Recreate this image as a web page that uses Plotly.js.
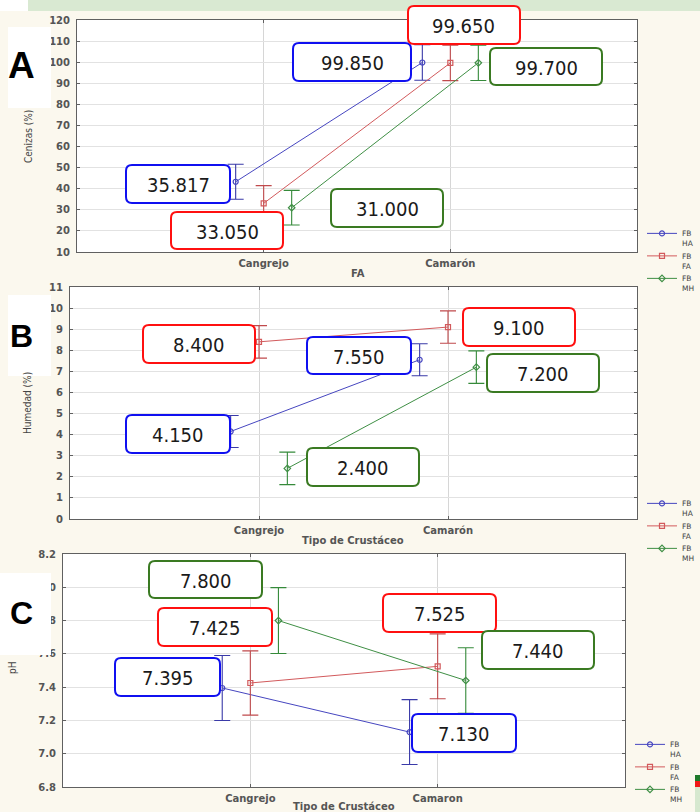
<!DOCTYPE html>
<html>
<head>
<meta charset="utf-8">
<script src="https://cdn.plot.ly/plotly-3.0.1.min.js"></script>
<style>html,body{margin:0;padding:0;background:#fbf8ee;}#chart{width:700px;height:812px;}</style>
</head>
<body>
<div id="chart"></div>
<script>
// ---------------- DATA ----------------
const seriesNames = ['FB<br>HA', 'FB<br>FA', 'FB<br>MH'];
const catsAB = ['Cangrejo', 'Camarón'];
const catsC = ['Cangrejo', 'Camaron'];

// Panel A: Cenizas (%)
const ashHA = [43.3, 99.85];
const ashFA = [33.05, 99.65];
const ashMH = [31.0, 99.7];
const ashErrHA = [8.3, 8.4];
const ashErrFA = [8.4, 8.4];
const ashErrMH = [8.2, 8.4];
const ashLblHA = ['35.817', '99.850'];
const ashLblFA = ['33.050', '99.650'];
const ashLblMH = ['31.000', '99.700'];

// Panel B: Humedad (%)
const humHA = [4.15, 7.55];
const humFA = [8.4, 9.1];
const humMH = [2.4, 7.2];
const humErrHA = [0.76, 0.76];
const humErrFA = [0.77, 0.77];
const humErrMH = [0.77, 0.77];
const humLblHA = ['4.150', '7.550'];
const humLblFA = ['8.400', '9.100'];
const humLblMH = ['2.400', '7.200'];

// Panel C: pH
const phHA = [7.395, 7.13];
const phFA = [7.425, 7.525];
const phMH = [7.8, 7.44];
const phErrHA = [0.195, 0.195];
const phErrFA = [0.193, 0.195];
const phErrMH = [0.198, 0.197];
const phLblHA = ['7.395', '7.130'];
const phLblFA = ['7.425', '7.525'];
const phLblMH = ['7.800', '7.440'];

const ashTicks = [10, 20, 30, 40, 50, 60, 70, 80, 90, 100, 110, 120];
const humTicks = [0, 1, 2, 3, 4, 5, 6, 7, 8, 9, 10, 11];
const phTicks = [6.8, 7.0, 7.2, 7.4, 7.6, 7.8, 8.0, 8.2];

// ---------------- STYLE ----------------
const W = 700, H = 812;
const px = x => x / W;
const py = y => 1 - y / H;
const lineColors = ['#4646c0', '#d25a5c', '#3f8f45'];
const errColors = ['#3a3aa8', '#c04a4c', '#358a3a'];
const boxColors = ['#1010f0', '#ff1010', '#3a7a22'];
const markerSymbols = ['circle-open', 'square-open', 'diamond-open'];
const offsets = [-0.15, 0, 0.15];
const tickFont = {family: 'DejaVu Sans, Verdana, sans-serif', size: 10, color: '#555', weight: 'bold'};
const narrow = 'Liberation Sans Narrow, DejaVu Sans Condensed, Roboto Condensed, Arial Narrow, sans-serif';

function makeTraces(cats, means, errs, xa, ya, legendId) {
  return means.map((m, s) => ({
    type: 'scatter', mode: 'lines+markers',
    x: cats.map((c, i) => i + offsets[s]), y: m,
    xaxis: xa, yaxis: ya, legend: legendId,
    name: seriesNames[s],
    line: {color: lineColors[s], width: 1},
    marker: {symbol: markerSymbols[s], size: 5, color: lineColors[s], line: {width: 1.2}},
    error_y: {type: 'data', array: errs[s], visible: true, color: errColors[s], thickness: 1.1, width: 8},
    hoverinfo: 'x+y'
  }));
}

const data = [].concat(
  makeTraces(catsAB, [ashHA, ashFA, ashMH], [ashErrHA, ashErrFA, ashErrMH], 'x', 'y', 'legend'),
  makeTraces(catsAB, [humHA, humFA, humMH], [humErrHA, humErrFA, humErrMH], 'x2', 'y2', 'legend2'),
  makeTraces(catsC, [phHA, phFA, phMH], [phErrHA, phErrFA, phErrMH], 'x3', 'y3', 'legend3')
);

function xAxis(cats, l, r) {
  return {
    domain: [px(l), px(r)], range: [-1, 2], tickmode: 'array', tickvals: cats.map((c, i) => i), ticktext: cats,
    showgrid: true, gridcolor: '#d6d6d6', gridwidth: 1, zeroline: false,
    showline: true, mirror: 'ticks', linecolor: '#606060', linewidth: 1,
    ticks: 'inside', ticklen: 3, tickcolor: '#606060', tickfont: tickFont, ticklabelstandoff: 2, fixedrange: true
  };
}
function yAxis(ticks, rng, top, bot, anchor, fmt) {
  return {
    domain: [py(bot), py(top)], range: rng, tickmode: 'array', tickvals: ticks,
    ticktext: ticks.map(v => fmt ? v.toFixed(1) : String(v)), anchor: anchor,
    showgrid: true, gridcolor: '#e2e2e2', gridwidth: 1, zeroline: false,
    showline: true, mirror: 'ticks', linecolor: '#606060', linewidth: 1,
    ticks: 'inside', ticklen: 3, tickcolor: '#606060', tickfont: tickFont, ticklabelstandoff: 4, fixedrange: true
  };
}

// value label boxes (pixel boxes), text taken from label arrays
const boxes = [
  {t: ashLblHA[0], s: 0, b: [126, 165, 230, 203]},
  {t: ashLblHA[1], s: 0, b: [293, 43, 411, 81]},
  {t: ashLblFA[0], s: 1, b: [171, 212, 283, 249]},
  {t: ashLblFA[1], s: 1, b: [408, 6, 520, 44]},
  {t: ashLblMH[0], s: 2, b: [331, 189, 443, 227]},
  {t: ashLblMH[1], s: 2, b: [490, 48, 602, 85]},
  {t: humLblHA[0], s: 0, b: [126, 415, 230, 453]},
  {t: humLblHA[1], s: 0, b: [307, 337, 411, 374]},
  {t: humLblFA[0], s: 1, b: [143, 325, 255, 363]},
  {t: humLblFA[1], s: 1, b: [463, 308, 575, 346]},
  {t: humLblMH[0], s: 2, b: [307, 448, 419, 486]},
  {t: humLblMH[1], s: 2, b: [487, 354, 599, 392]},
  {t: phLblHA[0], s: 0, b: [115, 658, 220, 696]},
  {t: phLblHA[1], s: 0, b: [412, 714, 516, 752]},
  {t: phLblFA[0], s: 1, b: [158, 608, 272, 646]},
  {t: phLblFA[1], s: 1, b: [383, 594, 496, 632]},
  {t: phLblMH[0], s: 2, b: [149, 561, 262, 598]},
  {t: phLblMH[1], s: 2, b: [482, 631, 594, 669]}
];

function roundRect(x0, y0, x1, y1, r) {
  const X = v => px(v).toFixed(5), Y = v => py(v).toFixed(5);
  return `M${X(x0 + r)},${Y(y0)} L${X(x1 - r)},${Y(y0)} Q${X(x1)},${Y(y0)} ${X(x1)},${Y(y0 + r)} ` +
    `L${X(x1)},${Y(y1 - r)} Q${X(x1)},${Y(y1)} ${X(x1 - r)},${Y(y1)} L${X(x0 + r)},${Y(y1)} ` +
    `Q${X(x0)},${Y(y1)} ${X(x0)},${Y(y1 - r)} L${X(x0)},${Y(y0 + r)} Q${X(x0)},${Y(y0)} ${X(x0 + r)},${Y(y0)} Z`;
}

const shapes = [
  // top green strip
  {type: 'rect', xref: 'paper', yref: 'paper', x0: px(28), x1: px(700), y0: py(11), y1: py(0), fillcolor: '#d9e9d2', line: {width: 0}, layer: 'below'},
  {type: 'rect', xref: 'paper', yref: 'paper', x0: px(0), x1: px(28), y0: py(11), y1: py(0), fillcolor: '#ffffff', line: {width: 0}, layer: 'below'},
  // panel letter white boxes
  {type: 'rect', xref: 'paper', yref: 'paper', x0: px(8), x1: px(51), y0: py(108), y1: py(27), fillcolor: '#ffffff', line: {width: 0}, layer: 'above'},
  {type: 'rect', xref: 'paper', yref: 'paper', x0: px(8), x1: px(51), y0: py(376), y1: py(295), fillcolor: '#ffffff', line: {width: 0}, layer: 'above'},
  {type: 'rect', xref: 'paper', yref: 'paper', x0: px(0), x1: px(51), y0: py(655), y1: py(573), fillcolor: '#ffffff', line: {width: 0}, layer: 'above'},
  // flag bits bottom right
  {type: 'rect', xref: 'paper', yref: 'paper', x0: px(695), x1: px(700), y0: py(781), y1: py(775), fillcolor: '#1e7a2a', line: {width: 0}, layer: 'above'},
  {type: 'rect', xref: 'paper', yref: 'paper', x0: px(695), x1: px(700), y0: py(787), y1: py(781), fillcolor: '#f01818', line: {width: 0}, layer: 'above'},
  {type: 'rect', xref: 'paper', yref: 'paper', x0: px(695), x1: px(700), y0: py(812), y1: py(787), fillcolor: '#d6e8cf', line: {width: 0}, layer: 'above'}
];
boxes.forEach(bx => {
  const [x0, y0, x1, y1] = bx.b;
  shapes.push({type: 'path', xref: 'paper', yref: 'paper', path: roundRect(x0, y0, x1, y1, 6),
    fillcolor: '#ffffff', line: {color: boxColors[bx.s], width: 2}, layer: 'above'});
});

const annotations = [];
boxes.forEach(bx => {
  const [x0, y0, x1, y1] = bx.b;
  annotations.push({xref: 'paper', yref: 'paper', x: px((x0 + x1) / 2), y: py((y0 + y1) / 2 + 1),
    xanchor: 'center', yanchor: 'middle', showarrow: false, text: bx.t,
    font: {family: narrow, size: 20, color: '#1a1a1a'}});
});
// panel letters
[['A', 21, 66, 37], ['B', 21, 336, 32], ['C', 21, 613, 32]].forEach(([t, x, y, s]) => {
  annotations.push({xref: 'paper', yref: 'paper', x: px(x), y: py(y), xanchor: 'center', yanchor: 'middle',
    showarrow: false, text: '<b>' + t + '</b>', font: {family: 'Liberation Sans, Arial, sans-serif', size: s, color: '#000'}});
});
// axis titles
const ytitles = [['Cenizas (%)', 28, 137], ['Humedad (%)', 28, 403], ['pH', 12, 668]];
ytitles.forEach(([t, x, y]) => annotations.push({xref: 'paper', yref: 'paper', x: px(x), y: py(y), xanchor: 'center', yanchor: 'middle',
  textangle: -90, showarrow: false, text: t, font: {family: narrow, size: 10, color: '#444'}}));
const xtitles = [['FA', 358, 273], ['Tipo de Crustáceo', 353, 540], ['Tipo de Crustáceo', 344, 806]];
xtitles.forEach(([t, x, y]) => annotations.push({xref: 'paper', yref: 'paper', x: px(x), y: py(y), xanchor: 'center', yanchor: 'middle',
  showarrow: false, text: t, font: {family: 'DejaVu Sans, Verdana, sans-serif', size: 10, color: '#555', weight: 'bold'}}));

const legendBase = {xanchor: 'left', bgcolor: 'rgba(0,0,0,0)', borderwidth: 0,
  font: {family: 'DejaVu Sans, Verdana, sans-serif', size: 7.5, color: '#444'}, tracegroupgap: 0, valign: 'top', itemwidth: 30};

const layout = {
  width: W, height: H, autosize: false,
  margin: {l: 0, r: 0, t: 0, b: 0, pad: 0},
  paper_bgcolor: '#fbf8ee', plot_bgcolor: '#ffffff',
  showlegend: true,
  xaxis: xAxis(catsAB, 77, 637), yaxis: yAxis(ashTicks, [10, 120], 20, 252, 'x'),
  xaxis2: Object.assign(xAxis(catsAB, 70, 637), {anchor: 'y2'}), yaxis2: yAxis(humTicks, [0, 11], 287, 519, 'x2'),
  xaxis3: Object.assign(xAxis(catsC, 63, 625), {anchor: 'y3'}), yaxis3: yAxis(phTicks, [6.8, 8.2], 554, 787, 'x3', true),
  legend: Object.assign({x: px(642), y: py(222), yanchor: 'top'}, legendBase),
  legend2: Object.assign({x: px(642), y: py(492), yanchor: 'top'}, legendBase),
  legend3: Object.assign({x: px(630), y: py(811), yanchor: 'bottom'}, legendBase),
  shapes: shapes, annotations: annotations
};
layout.xaxis.anchor = 'y';

Plotly.newPlot('chart', data, layout, {displayModeBar: false, staticPlot: true});
</script>
</body>
</html>
